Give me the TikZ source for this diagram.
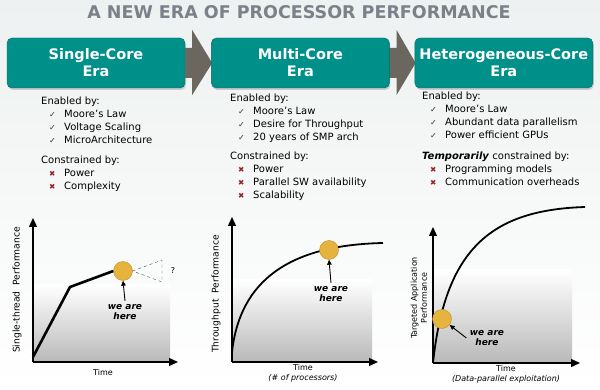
\documentclass[tikz,border=0pt]{standalone}
\usepackage{fontspec}
\setmainfont{DejaVu Sans}
\usetikzlibrary{positioning, shadows, calc, backgrounds, arrows.meta}

\definecolor{eraTeal}{HTML}{00908A}
\definecolor{titleGray}{HTML}{7A8188}
\definecolor{chevGray}{HTML}{6B675F}
\definecolor{checkGray}{HTML}{333333}
\definecolor{crossRed}{HTML}{9A2222}
\definecolor{dotGold}{HTML}{E6B43C}
\definecolor{bgGray}{HTML}{EEF1F1}

\newcommand{\chk}{\hspace*{8pt}\makebox[15pt][l]{\textcolor{checkGray}{\fontsize{8}{8}\selectfont ✓}}}
\newcommand{\crs}{\hspace*{8pt}\makebox[15pt][l]{\textcolor{crossRed}{\fontsize{7.5}{7.5}\selectfont ✖}}}

\begin{document}
\begin{tikzpicture}[x=1pt, y=-1pt,
    erabox/.style={draw=eraTeal!75!black, fill=eraTeal, rounded corners=5pt,
        minimum width=178pt, minimum height=50pt, text=white, align=center,
        font=\fontsize{14.5}{17}\selectfont\bfseries,
        drop shadow={opacity=0.35, shadow xshift=1pt, shadow yshift=-2pt}},
    chevron/.style={fill=chevGray},
    eralist/.style={anchor=north west, align=left, inner sep=0pt,
        font=\fontsize{10}{13}\selectfont},
    axis/.style={line width=1.4pt, -{Triangle[length=9pt, width=8pt]}},
    perf/.style={line width=2.6pt, line join=round},
    curve/.style={line width=1.8pt},
    dot/.style={circle, fill=dotGold, draw=dotGold!80!black, minimum size=19pt, inner sep=0pt},
    here/.style={font=\fontsize{9}{10}\selectfont\bfseries\itshape, align=center},
    herearrow/.style={line width=0.9pt, -{Triangle[length=5pt, width=4.5pt]}},
    axlabel/.style={font=\fontsize{8}{10}\selectfont, align=center},
    ylabel/.style={font=\fontsize{9.2}{11}\selectfont, rotate=90},
    fadebox/.style={top color=white, bottom color=gray!55}
]
\useasboundingbox (0,0) rectangle (600,390);

% title and eras
\node[font=\fontsize{17.5}{20}\selectfont\bfseries, text=titleGray] (title) at (299,12)
    {A NEW ERA OF PROCESSOR PERFORMANCE};

\node[erabox] (single) at (96,63) {Single-Core\\Era};
\node[erabox, right=26pt of single] (multi) {Multi-Core\\Era};
\node[erabox, right=25pt of multi] (hetero) {Heterogeneous-Core\\Era};

\begin{scope}[on background layer]
    \shade[top color=bgGray, bottom color=white] (0,0) rectangle (600,390);
    \foreach \a/\b in {single/multi, multi/hetero}
        \fill[chevron] ($(\a.east)+(-4,-15)$) -- ($(\a.east)+(7,-15)$)
            -- ($(\a.east)+(7,-33)$) -- ($(\b.west)+(1,0)$)
            -- ($(\a.east)+(7,32)$) -- ($(\a.east)+(7,15)$)
            -- ($(\a.east)+(-4,15)$) -- cycle;
\end{scope}

% lists
\node[eralist] (list1) at (41,97) {Enabled by:\\
    \chk Moore’s Law\\ \chk Voltage Scaling\\ \chk MicroArchitecture\\[7pt]
    Constrained by:\\ \crs Power\\ \crs Complexity};
\node[eralist] (list2) at (230,94) {Enabled by:\\
    \chk Moore’s Law\\ \chk Desire for Throughput\\ \chk 20 years of SMP arch\\[6pt]
    Constrained by:\\ \crs Power\\ \crs Parallel SW availability\\ \crs Scalability};
\node[eralist] (list3) at (422,92) {Enabled by:\\
    \chk Moore’s Law\\ \chk Abundant data parallelism\\ \chk Power efficient GPUs\\[8pt]
    \textbf{\textit{Temporarily}} constrained by:\\ \crs Programming models\\
    \crs Communication overheads};

% single-core chart
\coordinate (o1) at (33,362);
\shade[fadebox] (33,285) rectangle (170,362);
\draw[axis] (o1) -- (33,218);
\draw[axis] (o1) -- (178,362);
\node[dot] (dot1) at (123,271) {};
\draw[perf] (33,357) -- (70,287) -- (dot1.west);
\draw[dashed, gray!60!black] (dot1.east) -- (162,260) -- (162,282) -- cycle;
\node[axlabel] (q1) at (173,271) {?};
\node[here] (here1) at (125,312) {we are\\here};
\draw[herearrow] (here1.north) -- (dot1.south);
\node[ylabel] (ylab1) at (17,290) {Single-thread\ \ Performance};
\node[axlabel] (xlab1) at (103,373) {Time};

% multi-core chart
\coordinate (o2) at (232,362);
\shade[fadebox] (232,280) rectangle (372,362);
\draw[axis] (o2) -- (232,217);
\draw[axis] (o2) -- (378,362);
\draw[curve] (232,352) .. controls (240,280) and (290,245) .. (383,243);
\node[dot] (dot2) at (329,250) {};
\node[here] (here2) at (331,294) {we are\\here};
\draw[herearrow] (here2.north) -- (dot2.south);
\node[ylabel] (ylab2) at (216,294) {Throughput\ \ Performance};
\node[axlabel] (xlab2) at (303,373) {Time\\\textit{(\# of processors)}};

% heterogeneous chart
\coordinate (o3) at (433,363);
\shade[fadebox] (433,270) rectangle (572,363);
\draw[axis] (o3) -- (433,227);
\draw[axis] (o3) -- (580,363);
\draw[curve] (433,363) .. controls (445,250) and (490,210) .. (585,207);
\node[dot] (dot3) at (442,319) {};
\node[here] (here3) at (487,338) {we are\\here};
\draw[herearrow] (here3.west) -- (dot3);
\node[axlabel, rotate=90] (ylab3) at (419,298) {Targeted Application\\Performance};
\node[axlabel] (xlab3) at (506,374) {Time\\\textit{(Data-parallel exploitation)}};
\end{tikzpicture}
\end{document}
